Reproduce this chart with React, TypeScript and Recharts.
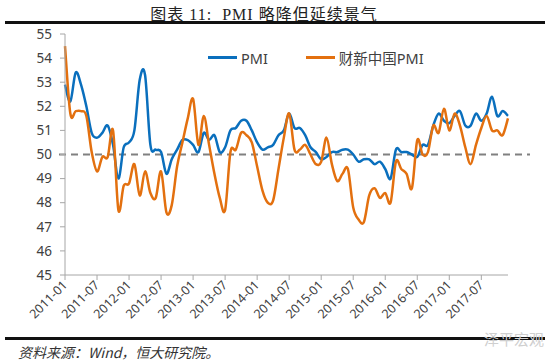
import React from 'react';
import { LineChart, Line, XAxis, YAxis, ReferenceLine, Legend } from 'recharts';

const years = ['2011', '2012', '2013', '2014', '2015', '2016', '2017'];
const monthNums = ['01', '02', '03', '04', '05', '06', '07', '08', '09', '10', '11', '12'];
const categories = years.flatMap((y) => monthNums.map((m) => `${y}-${m}`));

// 官方制造业PMI
const pmi = [
  52.9, 52.2, 53.4, 52.9, 52.0, 50.9, 50.7, 50.9, 51.2, 50.4, 49.0, 50.3,
  50.5, 51.0, 53.1, 53.3, 50.4, 50.2, 50.1, 49.2, 49.8, 50.2, 50.6, 50.6,
  50.4, 50.1, 50.9, 50.6, 50.8, 50.1, 50.3, 51.0, 51.1, 51.4, 51.4, 51.0,
  50.5, 50.2, 50.3, 50.4, 50.8, 51.0, 51.7, 51.1, 51.1, 50.8, 50.3, 50.1,
  49.8, 49.9, 50.1, 50.1, 50.2, 50.2, 50.0, 49.7, 49.8, 49.8, 49.6, 49.7,
  49.4, 49.0, 50.2, 50.1, 50.1, 50.0, 49.9, 50.4, 50.4, 51.2, 51.7, 51.4,
  51.3, 51.6, 51.8, 51.2, 51.2, 51.7, 51.4, 51.7, 52.4, 51.6, 51.8, 51.6,
];

// 财新中国PMI
const caixin = [
  54.5, 51.7, 51.8, 51.8, 51.6, 50.1, 49.3, 49.9, 49.9, 51.0, 47.7, 48.7,
  48.8, 49.6, 48.3, 49.3, 48.4, 48.2, 49.3, 47.6, 47.9, 49.5, 50.5, 51.5,
  52.3, 50.4, 51.6, 50.4, 49.2, 48.2, 47.7, 50.1, 50.2, 50.9, 50.8, 50.5,
  49.5, 48.5, 48.0, 48.1, 49.4, 50.7, 51.7, 50.2, 50.2, 50.4, 50.0, 49.6,
  49.7, 50.7, 49.6, 48.9, 49.2, 49.4, 47.8, 47.3, 47.2, 48.3, 48.6, 48.2,
  48.4, 48.0, 49.7, 49.4, 49.2, 48.6, 50.6, 50.0, 50.1, 51.2, 50.9, 51.9,
  51.0, 51.7, 51.2, 50.3, 49.6, 50.4, 51.1, 51.6, 51.0, 51.0, 50.8, 51.5,
];

const tickLabels = [
  '2011-01', '2011-07', '2012-01', '2012-07', '2013-01', '2013-07', '2014-01',
  '2014-07', '2015-01', '2015-07', '2016-01', '2016-07', '2017-01', '2017-07',
];
const yTicks = [45, 46, 47, 48, 49, 50, 51, 52, 53, 54, 55];

const data = categories.map((month, i) => ({ month, pmi: pmi[i], caixin: caixin[i] }));

const BLUE = '#0a6fbd';
const ORANGE = '#e3700f';
const AXIS = '#a6a6a6';
const TEXT = '#404040';
const SANS = '"Noto Sans", "Noto Sans CJK SC", sans-serif';

// Excel-style smoothed line (Catmull-Rom through the points)
function excelSmooth(context: any) {
  let pts: number[][] = [];
  return {
    areaStart() {},
    areaEnd() {},
    lineStart() {
      pts = [];
    },
    point(x: number, y: number) {
      pts.push([+x, +y]);
    },
    lineEnd() {
      if (!pts.length) return;
      context.moveTo(pts[0][0], pts[0][1]);
      const t = 1 / 6;
      for (let i = 0; i < pts.length - 1; i++) {
        const p0 = pts[Math.max(0, i - 1)];
        const p1 = pts[i];
        const p2 = pts[i + 1];
        const p3 = pts[Math.min(pts.length - 1, i + 2)];
        context.bezierCurveTo(
          p1[0] + (p2[0] - p0[0]) * t, p1[1] + (p2[1] - p0[1]) * t,
          p2[0] - (p3[0] - p1[0]) * t, p2[1] - (p3[1] - p1[1]) * t,
          p2[0], p2[1],
        );
      }
    },
  };
}

const XTick = ({ x, y, payload }: any) => (
  <text
    x={x + 3}
    y={y + 4}
    transform={`rotate(-45 ${x + 3} ${y + 4})`}
    textAnchor="end"
    fontSize={12.5}
    fontFamily={SANS}
    fill={TEXT}
  >
    {payload.value}
  </text>
);

const BaseLine = (props: any) => (
  <line
    x1={props.x1 - 6}
    y1={props.y1}
    x2={props.x2 + 22}
    y2={props.y2}
    stroke="#808080"
    strokeWidth={2}
    strokeDasharray="7 5"
  />
);

const renderLegend = (props: any) => (
  <div style={{ display: 'flex', alignItems: 'center', fontFamily: SANS, fontSize: 14.5, color: TEXT }}>
    {(props.payload || []).map((entry: any) => (
      <span key={entry.value} style={{ display: 'flex', alignItems: 'center', marginRight: 38 }}>
        <span style={{ display: 'inline-block', width: 29, height: 3, background: entry.color, marginRight: 4 }} />
        {entry.value}
      </span>
    ))}
  </div>
);

export default function App() {
  return (
    <div style={{ position: 'absolute', left: 0, top: 0, width: 550, height: 364, background: '#fff', overflow: 'hidden' }}>
      <div
        style={{
          position: 'absolute', left: 0, top: 1, width: 528, textAlign: 'center',
          fontFamily: '"Liberation Serif", "Noto Sans CJK SC", serif', fontSize: 16, letterSpacing: 1, color: '#222',
          whiteSpace: 'pre',
        }}
      >
        {'图表 11:  PMI 略降但延续景气'}
      </div>
      <div style={{ position: 'absolute', left: 5, top: 21, width: 540, height: 3, background: '#111' }} />

      <div style={{ position: 'absolute', left: 0, top: 0 }}>
        <LineChart width={550} height={364} data={data} margin={{ top: 34, right: 42, left: 35, bottom: 39 }}>
          <XAxis
            dataKey="month"
            ticks={tickLabels}
            interval={0}
            height={50}
            stroke={AXIS}
            tickSize={5}
            tick={<XTick />}
          />
          <YAxis
            domain={[45, 55]}
            ticks={yTicks}
            width={30}
            stroke={AXIS}
            tickSize={5}
            tickMargin={8}
            tick={{ fontSize: 13.5, fill: TEXT, fontFamily: SANS }}
          />
          <ReferenceLine y={50} shape={<BaseLine />} ifOverflow="visible" />
          <Legend verticalAlign="middle" align="center" wrapperStyle={{ top: 47, left: 208, width: 300 }} content={renderLegend} />
          <Line
            dataKey="pmi"
            name="PMI"
            type={excelSmooth as any}
            stroke={BLUE}
            strokeWidth={2.5}
            dot={false}
            isAnimationActive={false}
          />
          <Line
            dataKey="caixin"
            name="财新中国PMI"
            type={excelSmooth as any}
            stroke={ORANGE}
            strokeWidth={2.5}
            dot={false}
            isAnimationActive={false}
          />
        </LineChart>
      </div>

      <div style={{ position: 'absolute', left: 5, top: 337, width: 540, height: 3, background: '#111' }} />
      <div
        style={{
          position: 'absolute', left: 484, top: 328, fontFamily: '"Noto Sans CJK SC", sans-serif',
          fontSize: 15, color: '#cfcfcf',
        }}
      >
        泽平宏观
      </div>
      <div
        style={{
          position: 'absolute', left: 18, top: 342, fontFamily: '"Noto Sans CJK SC", sans-serif',
          fontSize: 14, fontStyle: 'italic', color: '#333',
        }}
      >
        资料来源：Wind，恒大研究院。
      </div>
    </div>
  );
}
